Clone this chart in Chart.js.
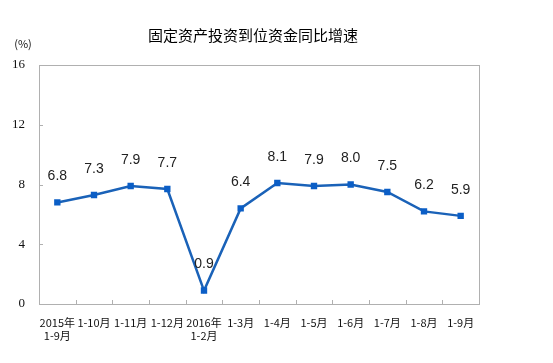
<!DOCTYPE html>
<html>
<head>
<meta charset="utf-8">
<script src="https://cdn.jsdelivr.net/npm/chart.js@4/dist/chart.umd.min.js"></script>
<style>
  html, body { margin: 0; padding: 0; background: #fff; }
  #wrap { width: 553px; height: 363px; }
</style>
</head>
<body>
<div id="wrap"><canvas id="lineChart" width="553" height="363"></canvas></div>
<script>
// 数据
const categories = [['2015年', '1-9月'], '1-10月', '1-11月', '1-12月', ['2016年', '1-2月'],
    '1-3月', '1-4月', '1-5月', '1-6月', '1-7月', '1-8月', '1-9月'];
const growthRate = [6.8, 7.3, 7.9, 7.7, 0.9, 6.4, 8.1, 7.9, 8.0, 7.5, 6.2, 5.9];
const yTicks = [0, 4, 8, 12, 16];

const chartTitle = '固定资产投资到位资金同比增速';
const unitLabel = '(%)';

// 标题、边框、刻度和数值标签
const decorPlugin = {
    id: 'decor',
    afterDraw(chart) {
        const ctx = chart.ctx;
        const area = chart.chartArea;
        const xs = chart.scales.x;
        const ys = chart.scales.y;
        ctx.save();

        // 标题
        ctx.fillStyle = '#000';
        ctx.font = '15px "Noto Sans CJK SC"';
        ctx.textAlign = 'center';
        ctx.textBaseline = 'middle';
        ctx.fillText(chartTitle, 253, 35);

        // 单位
        ctx.fillStyle = '#111';
        ctx.font = '11px "Noto Sans CJK SC"';
        ctx.fillText(unitLabel, 23, 44);

        // 边框
        ctx.strokeStyle = '#b0b0b0';
        ctx.lineWidth = 1;
        ctx.strokeRect(Math.round(area.left) + 0.5, Math.round(area.top) + 0.5,
            Math.round(area.right - area.left), Math.round(area.bottom - area.top));

        // 纵轴刻度（向内）
        yTicks.forEach(v => {
            const y = Math.round(ys.getPixelForValue(v)) + 0.5;
            ctx.beginPath();
            ctx.moveTo(area.left, y);
            ctx.lineTo(area.left + 4, y);
            ctx.stroke();
        });

        // 横轴刻度（分类之间，向上）
        for (let i = 1; i < categories.length; i++) {
            const x = Math.round((xs.getPixelForValue(i - 1) + xs.getPixelForValue(i)) / 2) + 0.5;
            ctx.beginPath();
            ctx.moveTo(x, area.bottom);
            ctx.lineTo(x, area.bottom - 4);
            ctx.stroke();
        }

        // 数值标签
        ctx.fillStyle = '#222';
        ctx.font = '14px "Liberation Sans"';
        ctx.textAlign = 'center';
        ctx.textBaseline = 'middle';
        const meta = chart.getDatasetMeta(0);
        meta.data.forEach((pt, i) => {
            ctx.fillText(growthRate[i].toFixed(1), pt.x, pt.y - 26);
        });
        ctx.restore();
    }
};

const ctx = document.getElementById('lineChart').getContext('2d');
const lineChart = new Chart(ctx, {
    type: 'line',
    data: {
        labels: categories,
        datasets: [{
            data: growthRate,
            borderColor: '#1a62b8',
            borderWidth: 2.5,
            backgroundColor: '#0b5ec6',
            pointStyle: 'rect',
            pointRadius: 4.5,
            pointBorderWidth: 0,
            tension: 0,
            fill: false
        }]
    },
    options: {
        responsive: false,
        animation: false,
        devicePixelRatio: 1,
        layout: { padding: { top: 65, right: 74, left: 0, bottom: 0 } },
        plugins: {
            legend: { display: false },
            tooltip: { enabled: false }
        },
        scales: {
            x: {
                offset: true,
                grid: { display: false, drawTicks: false },
                border: { display: false },
                ticks: {
                    color: '#111',
                    font: { family: '"Noto Sans CJK SC"', size: 11 },
                    maxRotation: 0,
                    autoSkip: false,
                    padding: 12
                },
                afterFit(scale) { scale.height = 59; }
            },
            y: {
                min: 0,
                max: 16,
                grid: { display: false, drawTicks: false },
                border: { display: false },
                afterBuildTicks(scale) {
                    scale.ticks = yTicks.map(v => ({ value: v }));
                },
                ticks: {
                    color: '#111',
                    font: { family: '"Liberation Serif"', size: 13 },
                    padding: 14
                },
                afterFit(scale) { scale.width = 39; }
            }
        }
    },
    plugins: [decorPlugin]
});
</script>
</body>
</html>
